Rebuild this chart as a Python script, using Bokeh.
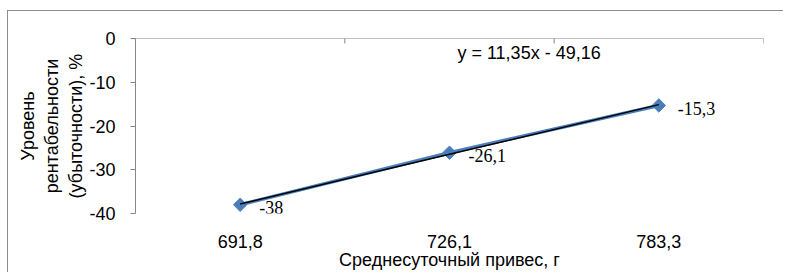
import math
import numpy as np
from bokeh.plotting import figure
from bokeh.models import Range1d, FixedTicker, Label, LabelSet, ColumnDataSource, Span
from bokeh.embed import file_html
from bokeh.resources import INLINE

# ---- data ----
weights = ["691,8", "726,1", "783,3"]          # Среднесуточный привес, г
profitability = [-38.0, -26.1, -15.3]           # Уровень рентабельности, %
y_ticks = [-40, -30, -20, -10, 0]
trend_text = "y = 11,35x - 49,16"

FONT = "Liberation Sans"
FS = "18px"
AXIS_GRAY = "#868686"
BLUE = "#4A7EBB"

xs = list(range(1, len(weights) + 1))
bounds = [x - 0.5 for x in xs] + [xs[-1] + 0.5]
slope, intercept = np.polyfit(xs, profitability, 1)
trend = [slope * x + intercept for x in xs]
labels = [f"{v:g}".replace(".", ",") for v in profitability]

src = ColumnDataSource(dict(x=xs, y=profitability, trend=trend, lab=labels))

p = figure(width=776, height=262, output_backend="svg", toolbar_location=None,
           x_range=Range1d(0.5, len(weights) + 0.5), y_range=Range1d(-40, 0),
           min_border_left=127, min_border_right=21, min_border_top=27, min_border_bottom=60)
p.outline_line_color = None
p.xgrid.visible = False
p.ygrid.visible = False
# chart-area border (only its left and top edges fall inside the window)
p.styles = {"margin-left": "7px", "margin-top": "10px",
            "border-left": "1px solid #8c8c8c", "border-top": "1px solid #8c8c8c"}

# bottom axis: category labels only
xa = p.xaxis[0]
xa.ticker = FixedTicker(ticks=xs)
xa.major_label_overrides = {x: w for x, w in zip(xs, weights)}
xa.axis_line_color = None
xa.major_tick_line_color = None
xa.major_tick_in = 0
xa.major_tick_out = 0
xa.minor_tick_line_color = None
xa.major_label_standoff = 21
xa.major_label_text_font = FONT
xa.major_label_text_font_size = FS
xa.major_label_text_color = "black"
xa.axis_label = "Среднесуточный привес, г"
xa.axis_label_text_font = FONT
xa.axis_label_text_font_size = FS
xa.axis_label_text_font_style = "normal"
xa.axis_label_text_color = "black"
xa.axis_label_standoff = -1

# top line at y = 0 with category boundary ticks
p.add_layout(Span(location=0, dimension="width", line_color=AXIS_GRAY, line_width=1))
p.scatter(bounds, [0] * len(bounds), marker="dash", angle=math.pi / 2, size=10,
          line_color=AXIS_GRAY, line_width=1)

# left axis
ya = p.yaxis[0]
ya.ticker = FixedTicker(ticks=y_ticks)
ya.major_label_overrides = {t: str(t) for t in y_ticks}
ya.axis_line_color = AXIS_GRAY
ya.major_tick_line_color = AXIS_GRAY
ya.major_tick_in = 0
ya.major_tick_out = 5
ya.minor_tick_line_color = None
ya.major_label_standoff = 15
ya.major_label_text_font = FONT
ya.major_label_text_font_size = FS
ya.major_label_text_color = "black"
ya.axis_label = "Уровень\nрентабельности\n(убыточности), %"
ya.axis_label_text_font = FONT
ya.axis_label_text_font_size = FS
ya.axis_label_text_font_style = "normal"
ya.axis_label_text_color = "black"
ya.axis_label_text_align = "center"
ya.axis_label_standoff = 0

# series
p.line("x", "y", source=src, line_color=BLUE, line_width=3.5)
p.scatter("x", "y", source=src, marker="square", angle=math.pi / 4, size=9.5,
          fill_color=BLUE, line_color=BLUE)
p.line("x", "trend", source=src, line_color="black", line_width=1.5)
p.add_layout(LabelSet(x="x", y="y", text="lab", source=src, x_offset=19, y_offset=-3,
                      text_align="left", text_baseline="middle",
                      text_font=FONT, text_font_size=FS, text_color="black"))

p.add_layout(Label(x=2.38, y=-3.2, text=trend_text, text_align="center",
                   text_baseline="middle", text_font=FONT,
                   text_font_size=FS, text_color="black"))

open("out.html", "w").write(file_html(p, INLINE))
